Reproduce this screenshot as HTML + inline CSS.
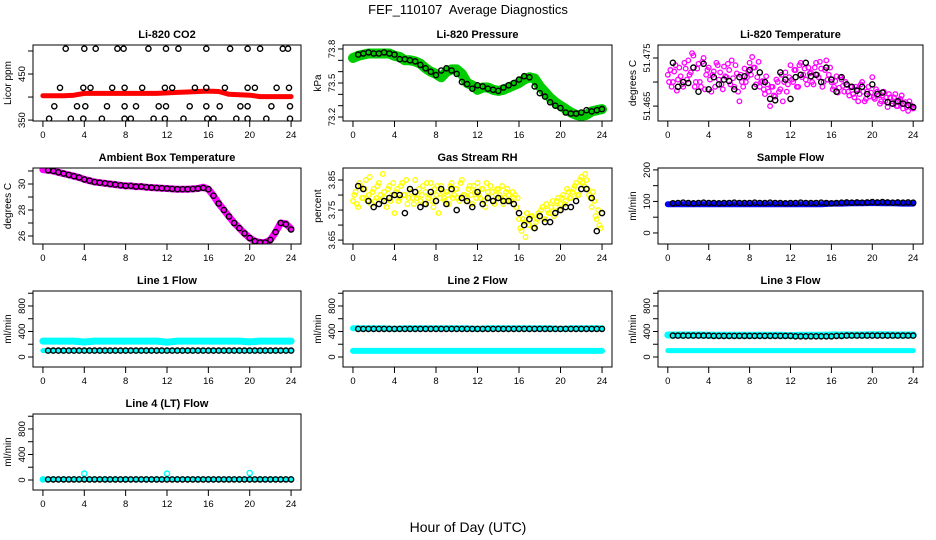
<!DOCTYPE html>
<html><head><meta charset="utf-8"><title>FEF_110107 Average Diagnostics</title>
<style>
html,body{margin:0;padding:0;background:#fff;}
svg{display:block;font-family:"Liberation Sans",Arial,sans-serif;}
</style></head>
<body>
<svg id="chart" xmlns="http://www.w3.org/2000/svg" width="936" height="540" viewBox="0 0 936 540">
<rect x="0" y="0" width="936" height="540" fill="#fff"/>
<text x="468" y="14" font-size="13" text-anchor="middle" xml:space="preserve">FEF_110107  Average Diagnostics</text>
<text x="468" y="532" font-size="14" text-anchor="middle">Hour of Day (UTC)</text>
</svg>
<script>
// ---- data ----
const hourTicks = [0,4,8,12,16,20,24];
const co2Red = [403,403,403,404,408,408,408,408,408,408,408,408,409,410,411,412,413,412,406,405,404,401,401,401,401];
const co2BlackHours = [2.2,4.0,5.1,7.2,7.8,10.2,11.9,13.1,15.8,18.1,19.8,21.0,23.2,23.7,1.65,3.9,4.6,6.7,7.9,9.6,11.8,12.5,14.7,15.8,17.6,19.8,20.5,22.6,23.8,1.1,3.3,4.1,6.2,7.9,9.0,11.2,11.9,14.2,15.8,17.1,19.1,19.8,22.1,23.9,0.6,2.7,3.9,5.7,7.9,8.5,10.7,11.8,13.6,15.9,16.5,18.7,19.8,21.6,23.9];
const co2BlackVals = [505,505,505,505,505,505,505,505,505,505,505,505,505,505,420,420,420,420,420,420,420,420,420,420,420,420,420,420,420,380,380,380,380,380,380,380,380,380,380,380,380,380,380,380,353,353,353,353,353,353,353,353,353,353,353,353,353,353,353];
const pressGreen = [73.72,73.74,73.75,73.76,73.76,73.76,73.76,73.76,73.74,73.73,73.70,73.70,73.69,73.67,73.63,73.60,73.58,73.55,73.60,73.62,73.62,73.58,73.50,73.48,73.44,73.46,73.46,73.44,73.43,73.44,73.46,73.48,73.50,73.53,73.55,73.54,73.47,73.42,73.37,73.33,73.30,73.27,73.24,73.22,73.21,73.22,73.25,73.26,73.27];
const pressBlack = [73.75,73.76,73.77,73.76,73.76,73.77,73.76,73.75,73.71,73.71,73.70,73.69,73.66,73.63,73.60,73.57,73.61,73.63,73.61,73.58,73.51,73.49,73.45,73.48,73.47,73.45,73.44,73.43,73.46,73.48,73.50,73.53,73.56,73.55,73.47,73.41,73.38,73.33,73.30,73.28,73.24,73.23,73.23,73.24,73.26,73.25,73.26,73.27];
const tempA = [51.4715,51.4725,51.4700,51.4735,51.4705,51.4712,51.4690,51.4728,
51.4745,51.4720,51.4755,51.4700,51.4738,51.4690,51.4750,51.4715,
51.4730,51.4680,51.4722,51.4740,51.4705,51.4695,51.4732,51.4710,
51.4725,51.4745,51.4690,51.4718,51.4660,51.4700,51.4728,51.4710,
51.4740,51.4752,51.4730,51.4710,51.4690,51.4702,51.4675,51.4695,
51.4650,51.4690,51.4670,51.4700,51.4685,51.4660,51.4720,51.4695,
51.4735,51.4700,51.4725,51.4690,51.4740,51.4715,51.4705,51.4730,
51.4720,51.4695,51.4740,51.4710,51.4728,51.4700,51.4745,51.4715,
51.4700,51.4690,51.4712,51.4688,51.4705,51.4680,51.4695,51.4672,
51.4690,51.4668,51.4685,51.4675,51.4700,51.4660,51.4680,51.4670,
51.4710,51.4665,51.4680,51.4655,51.4672,51.4660,51.4648,51.4668,
51.4660,51.4675,51.4650,51.4665,51.4645,51.4658,51.4640,51.4652,51.4645];
const tempB = [51.4700,51.4690,51.4722,51.4682,51.4730,51.4695,51.4740,51.4705,
51.4715,51.4760,51.4690,51.4728,51.4700,51.4742,51.4685,51.4725,
51.4705,51.4715,51.4690,51.4735,51.4720,51.4685,51.4712,51.4738,
51.4695,51.4708,51.4735,51.4680,51.4715,51.4690,51.4700,51.4722,
51.4715,51.4730,51.4695,51.4742,51.4700,51.4685,51.4712,51.4680,
51.4690,51.4672,51.4705,51.4680,51.4715,51.4700,51.4680,51.4710,
51.4705,51.4725,51.4690,51.4735,51.4710,51.4728,51.4695,51.4718,
51.4700,51.4730,51.4715,51.4742,51.4690,51.4725,51.4705,51.4730,
51.4685,51.4702,51.4678,51.4710,51.4692,51.4700,51.4680,51.4690,
51.4675,51.4690,51.4660,51.4695,51.4680,51.4665,51.4690,51.4678,
51.4668,51.4685,51.4672,51.4660,51.4680,51.4668,51.4675,51.4655,
51.4668,51.4650,51.4662,51.4672,51.4655,51.4648,51.4660,51.4650];
const tempBlack = [51.4740,51.4690,51.4700,51.4698,51.4730,51.4680,51.4738,51.4685,
51.4710,51.4695,51.4705,51.4702,51.4685,51.4710,51.4712,51.4725,
51.4690,51.4720,51.4700,51.4665,51.4662,51.4720,51.4705,51.4665,
51.4710,51.4715,51.4740,51.4712,51.4715,51.4700,51.4730,51.4705,
51.4680,51.4710,51.4695,51.4690,51.4682,51.4690,51.4675,51.4695,
51.4675,51.4678,51.4658,51.4655,51.4660,51.4655,51.4652,51.4648];
const ambMagenta = [31.1,31.05,31.0,30.9,30.8,30.7,30.6,30.5,30.35,30.25,30.15,30.1,30.05,30.0,29.95,29.9,29.85,29.85,29.8,29.8,29.75,29.72,29.7,29.68,29.65,29.62,29.6,29.6,29.6,29.62,29.65,29.75,29.6,29.1,28.5,28.0,27.5,27.0,26.6,26.2,25.85,25.6,25.5,25.5,25.7,26.3,27.0,26.95,26.55];
const ambBlack = [31.05,31.0,30.9,30.8,30.7,30.6,30.5,30.35,30.25,30.15,30.1,30.05,30.0,29.95,29.9,29.85,29.85,29.8,29.8,29.75,29.72,29.7,29.68,29.65,29.62,29.6,29.6,29.6,29.62,29.65,29.7,29.6,29.1,28.5,28.0,27.5,27.0,26.6,26.2,25.85,25.6,25.5,25.5,25.7,26.3,27.0,26.9,26.5];
const rhA = [3.78,3.81,3.76,3.83,3.79,3.85,3.80,3.77,
3.82,3.79,3.84,3.78,3.81,3.76,3.83,3.80,
3.74,3.82,3.79,3.84,3.80,3.77,3.82,3.79,
3.85,3.80,3.78,3.83,3.81,3.79,3.84,3.76,
3.80,3.74,3.83,3.79,3.81,3.77,3.84,3.80,
3.82,3.78,3.85,3.80,3.79,3.83,3.77,3.81,
3.84,3.79,3.82,3.76,3.81,3.83,3.78,3.80,
3.82,3.79,3.77,3.81,3.80,3.78,3.79,3.76,
3.72,3.68,3.71,3.74,3.70,3.73,3.69,3.72,
3.73,3.76,3.72,3.75,3.74,3.78,3.76,3.79,
3.77,3.80,3.78,3.81,3.79,3.82,3.84,3.80,
3.86,3.83,3.85,3.80,3.76,3.78,3.72,3.70,3.74];
const rhB = [3.80,3.77,3.84,3.79,3.82,3.78,3.86,3.81,
3.78,3.83,3.80,3.87,3.79,3.82,3.78,3.84,
3.81,3.78,3.83,3.80,3.85,3.79,3.81,3.77,
3.79,3.82,3.80,3.77,3.84,3.80,3.78,3.82,
3.83,3.79,3.81,3.78,3.80,3.83,3.79,3.82,
3.79,3.84,3.80,3.78,3.82,3.80,3.83,3.79,
3.80,3.82,3.78,3.84,3.79,3.81,3.77,3.82,
3.80,3.83,3.79,3.82,3.78,3.81,3.80,3.79,
3.69,3.72,3.66,3.70,3.73,3.69,3.71,3.74,
3.75,3.72,3.77,3.74,3.76,3.73,3.78,3.75,
3.79,3.77,3.82,3.79,3.81,3.83,3.80,3.85,
3.84,3.87,3.82,3.79,3.81,3.73,3.75,3.69];
const rhBlack = [3.83,3.82,3.78,3.76,3.77,3.78,3.79,3.80,
3.80,3.74,3.82,3.81,3.76,3.77,3.81,3.78,
3.82,3.77,3.82,3.75,3.79,3.78,3.76,3.81,
3.77,3.79,3.78,3.79,3.78,3.78,3.77,3.74,
3.70,3.72,3.69,3.73,3.71,3.71,3.74,3.75,
3.76,3.76,3.78,3.82,3.82,3.79,3.68,3.74];
const sampleBlue = [91,91,91,91,91,91,91,91,91,91,91,91,91,91,91,91,93,93,94,94,95,94,94,93,93];
const sampleBlack = [94,95,96,95,94,95,96,95,95,94,95,95,96,95,95,95,96,95,95,96,95,95,94,95,95,96,95,95,95,96,95,94,95,96,97,96,97,96,97,98,97,98,97,96,97,96,97,96];
const line1High = [250,250,250,250,235,250,250,250,250,250,250,250,232,250,250,250,250,250,250,250,236,250,250,250,250];
const line1Low = [100,100,100,100,100,100,100,100,100,100,100,100,100,100,100,100,100,100,100,100,100,100,100,100,100];
const line1Black = [100,100,100,100,100,100,100,100,100,100,100,100,100,100,100,100,100,100,100,100,100,100,100,100,100,100,100,100,100,100,100,100,100,100,100,100,100,100,100,100,100,100,100,100,100,100,100,100];
const line2High = [450,450,450,450,440,450,450,450,450,450,450,450,440,450,450,450,450,450,450,450,440,450,450,450,450];
const line2Low = [95,95,95,95,95,95,95,95,95,95,95,95,95,95,95,95,95,95,95,95,95,95,95,95,95];
const line2Black = [440,440,440,440,440,440,440,440,440,440,440,440,440,440,440,440,440,440,440,440,440,440,440,440,440,440,440,440,440,440,440,440,440,440,440,440,440,440,440,440,440,440,440,440,440,440,440,440];
const line3High = [345,345,345,345,340,340,340,340,340,340,340,340,335,340,340,340,345,345,345,345,350,350,345,345,345];
const line3Low = [100,100,100,100,100,100,100,100,100,100,100,100,100,100,100,100,100,100,100,100,100,100,100,100,100];
const line3Black = [335,335,335,335,335,335,335,335,330,330,330,330,330,330,330,330,330,330,330,330,330,330,330,330,325,325,325,325,325,325,325,325,330,330,335,335,335,335,335,335,335,335,335,335,335,335,335,335];
const line4Cyan = [10,10,10,10,100,10,10,10,10,10,10,10,100,10,10,10,10,10,10,10,110,10,10,10,10];
const line4Black = [10,10,10,10,10,10,10,10,10,10,10,10,10,10,10,10,10,10,10,10,10,10,10,10,10,10,10,10,10,10,10,10,10,10,10,10,10,10,10,10,10,10,10,10,10,10,10,10];

// ---- layout ----
const NS = 'http://www.w3.org/2000/svg';
const svg = document.getElementById('chart');
const cols = [[33,301],[343,612],[658,923]];
const rows = [45,168,291,414];
const PH = 76;
function el(tag, attrs, parent){ const e=document.createElementNS(NS,tag); for(const k in attrs) e.setAttribute(k,attrs[k]); (parent||svg).appendChild(e); return e; }
function makePanel(col,row,ydom,title,ylab,ticks,labels,name){
  const p={x0:cols[col][0],x1:cols[col][1],y0:rows[row],y1:rows[row]+PH,ydom};
  p.g=el('g',{});
  
  
  p.xs=h=>p.x0+(h+0.96)/25.92*(p.x1-p.x0);
  p.ys=v=>p.y1-(v-ydom[0])/(ydom[1]-ydom[0])*PH;
  const t=el('text',{x:(p.x0+p.x1)/2,y:p.y0-7,'font-size':11,'font-weight':'bold','text-anchor':'middle'},p.g);
  t.textContent=title;
  
  
  const xa=el('g',{stroke:'#000','stroke-width':1},p.g);
  
  
  el('line',{x1:p.xs(hourTicks[0]),x2:p.xs(hourTicks[hourTicks.length-1]),y1:p.y1,y2:p.y1},xa);
  hourTicks.forEach(h=>{
    el('line',{x1:p.xs(h),x2:p.xs(h),y1:p.y1,y2:p.y1+6},xa);
    const lt=el('text',{x:p.xs(h),y:p.y1+17,'font-size':9.5,'text-anchor':'middle',stroke:'none'},xa);
    lt.textContent=String(h);
    
    
  });
  const ya=el('g',{stroke:'#000','stroke-width':1},p.g);
  
  
  el('line',{x1:p.x0,x2:p.x0,y1:p.ys(ticks[0]),y2:p.ys(ticks[ticks.length-1])},ya);
  ticks.forEach((v,i)=>{
    const y=p.ys(v);
    el('line',{x1:p.x0,x2:p.x0-5,y1:y,y2:y},ya);
    if(labels[i]){
      const lt=el('text',{x:p.x0-8,y:y,'font-size':9.5,'text-anchor':'middle',stroke:'none',transform:`rotate(-90 ${p.x0-8} ${y})`},ya);
      lt.textContent=labels[i];
      
      
    }
  });
  const yl=el('text',{x:p.x0-22,y:(p.y0+p.y1)/2,'font-size':10,'text-anchor':'middle',transform:`rotate(-90 ${p.x0-22} ${(p.y0+p.y1)/2})`},p.g);
  yl.textContent=ylab;
  
  
  p.clipId='clip-'+name;
  const cp=el('clipPath',{id:p.clipId},p.g);
  el('rect',{x:p.x0,y:p.y0,width:p.x1-p.x0,height:PH},cp);
  p.marks=el('g',{'clip-path':`url(#${p.clipId})`},p.g);
  
  
  p.finish=()=>{ const b=el('rect',{x:p.x0,y:p.y0,width:p.x1-p.x0,height:PH,fill:'none',stroke:'#000','stroke-width':1},p.g);
    
     };
  return p;
}
function band(p,vals,step,start,color,width,sname){
  const pts=vals.map((v,i)=>p.xs(start+i*step).toFixed(1)+','+p.ys(v).toFixed(1)).join(' ');
  const pl=el('polyline',{points:pts,fill:'none',stroke:color,'stroke-width':width,'stroke-linejoin':'round','stroke-linecap':'round'},p.marks);
  
  
}
function dots(p,hours,vals,color,sname,r,sw){
  const g=el('g',{fill:'none',stroke:color,'stroke-width':sw||1.4},p.marks);
  
  
  vals.forEach((v,i)=>{
    const c=el('circle',{cx:p.xs(hours[i]).toFixed(1),cy:p.ys(v).toFixed(1),r:r||2.6},g);
    
    
  });
}
const seq=(start,step,n)=>Array.from({length:n},(_,i)=>start+i*step);
const h025=seq(0,0.25,97), h0125=seq(0.125,0.25,96), h05=seq(0,0.5,49), hBlk=seq(0.5,0.5,48), h1=seq(0,1,25);

// Li-820 CO2
let p=makePanel(0,0,[348,513],'Li-820 CO2','Licor ppm',[350,400,450,500],['350','','450',''],'co2');
band(p,co2Red,1,0,'#ff0000',5,'co2-red-band');
dots(p,co2BlackHours,co2BlackVals,'#000','co2-hourly-avg');
p.finish();
// Pressure
p=makePanel(1,0,[73.165,73.835],'Li-820 Pressure','kPa',[73.2,73.3,73.4,73.5,73.6,73.7,73.8],['73.2','','','73.5','','','73.8'],'pressure');
band(p,pressGreen,0.5,0,'#00cc00',10,'pressure-green-band');
dots(p,hBlk,pressBlack,'#000','pressure-avg');
p.finish();
// Temperature
p=makePanel(2,0,[51.4619,51.4777],'Li-820 Temperature','degrees C',[51.465,51.47,51.475],['51.465','','51.475'],'temperature');
dots(p,h025,tempA,'#ff00ff','temperature-a',2.3,1.3);
dots(p,h0125,tempB,'#ff00ff','temperature-b',2.3,1.3);
dots(p,hBlk,tempBlack,'#000','temperature-avg');
p.finish();
// Ambient
p=makePanel(0,1,[25.385,31.23],'Ambient Box Temperature','degrees C',[26,27,28,29,30,31],['26','','28','','30',''],'ambient');
band(p,ambMagenta,0.5,0,'#ff00ff',7,'ambient-band');
dots(p,hBlk,ambBlack,'#000','ambient-avg');
p.finish();
// RH
p=makePanel(1,1,[3.637,3.89],'Gas Stream RH','percent',[3.65,3.70,3.75,3.80,3.85],['3.65','','3.75','','3.85'],'rh');
dots(p,h025,rhA,'#ffff00','rh-a',2.3,1.3);
dots(p,h0125,rhB,'#ffff00','rh-b',2.3,1.3);
dots(p,hBlk,rhBlack,'#000','rh-avg');
p.finish();
// Sample flow
p=makePanel(2,1,[-35,206],'Sample Flow','ml/min',[0,50,100,150,200],['0','','100','','200'],'sample-flow');
band(p,sampleBlue,1,0,'#0000ff',6,'sample-flow-band');
dots(p,hBlk,sampleBlack,'#000','sample-flow-avg');
p.finish();
// Lines
const lt=[0,200,400,600,800,1000], ll=['0','','400','','800',''];
p=makePanel(0,2,[-157,1035],'Line 1 Flow','ml/min',lt,ll,'line1');
band(p,line1High,1,0,'#00ffff',7,'line1-high');
band(p,line1Low,1,0,'#00ffff',5,'line1-low');
dots(p,hBlk,line1Black,'#000','line1-avg');
p.finish();
p=makePanel(1,2,[-157,1035],'Line 2 Flow','ml/min',lt,ll,'line2');
band(p,line2High,1,0,'#00ffff',6,'line2-high');
band(p,line2Low,1,0,'#00ffff',6,'line2-low');
dots(p,hBlk,line2Black,'#000','line2-avg');
p.finish();
p=makePanel(2,2,[-157,1035],'Line 3 Flow','ml/min',lt,ll,'line3');
band(p,line3High,1,0,'#00ffff',7,'line3-high');
band(p,line3Low,1,0,'#00ffff',5,'line3-low');
dots(p,hBlk,line3Black,'#000','line3-avg');
p.finish();
p=makePanel(0,3,[-157,1035],'Line 4 (LT) Flow','ml/min',lt,ll,'line4');
band(p,line4Cyan.map(v=>Math.min(v,10)),1,0,'#00ffff',5,'line4-band');
dots(p,h1,line4Cyan,'#00ffff','line4-cyan');
dots(p,hBlk,line4Black,'#000','line4-avg');
p.finish();
</script>
</body></html>
